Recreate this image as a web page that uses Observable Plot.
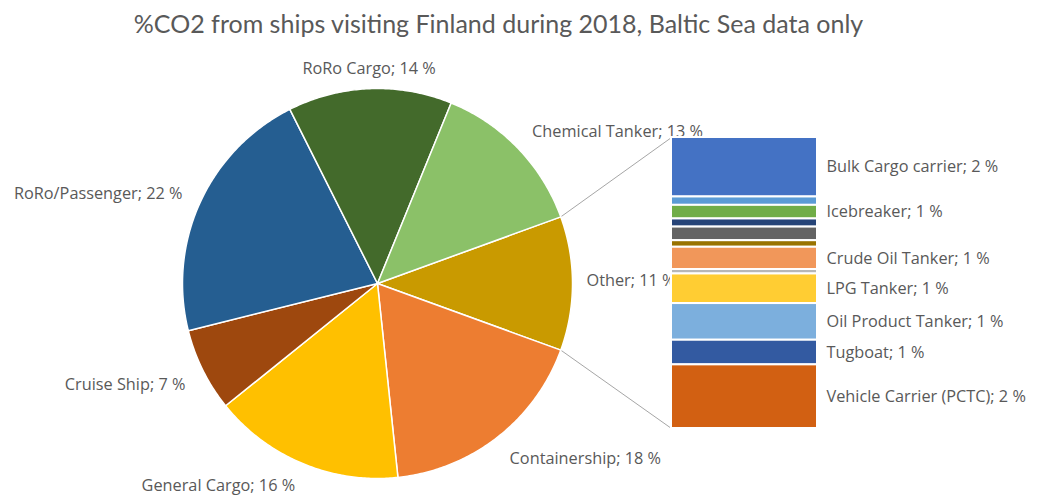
<!DOCTYPE html>
<html><head><meta charset="utf-8">
<script src="https://cdn.jsdelivr.net/npm/d3@7"></script>
<script src="https://cdn.jsdelivr.net/npm/@observablehq/plot@0.6"></script>
<style>
body{margin:0;background:#fff;font-family:"Open Sans",sans-serif;}
#title{height:44px;width:1037px;box-sizing:border-box;padding-right:40px;text-align:center;font-family:Lato,sans-serif;font-size:25px;line-height:46px;color:#595959;white-space:nowrap;}
</style></head><body>
<div id="title">%CO2 from ships visiting Finland during 2018, Baltic Sea data only</div>
<div id="chart"></div>
<script>
// ---- data ----
const pieCategories = ["Other", "Containership", "General Cargo", "Cruise Ship", "RoRo/Passenger", "RoRo Cargo", "Chemical Tanker"];
const pieMainValues = [17.8, 15.9, 6.9, 21.5, 13.6, 13.3]; // after "Other"
const pieColors = ["#c99a00", "#ed7d31", "#ffc000", "#9e480e", "#255e91", "#436a2b", "#8bc168"];

const barCategories = ["Bulk Cargo carrier", "(unlabelled 1)", "Icebreaker", "(unlabelled 2)", "(unlabelled 3)", "(unlabelled 4)", "Crude Oil Tanker", "(unlabelled 5)", "LPG Tanker", "Oil Product Tanker", "Tugboat", "Vehicle Carrier (PCTC)"];
const barValues = [2.27, 0.32, 0.52, 0.31, 0.52, 0.25, 0.85, 0.17, 1.13, 1.40, 0.94, 2.43];
const barColors = ["#4472c4", "#5b9bd5", "#70ad47", "#264478", "#636363", "#997300", "#f1975a", "#b7b7b7", "#ffcd33", "#7cafdd", "#335aa1", "#d26012"];
const barShowLabel = [true, false, true, false, false, false, true, false, true, true, true, true];

// ---- layout ----
const W = 1037, H = 451;
const cx = 377, cy = 239, R = 195;           // pie centre / radius in px
const px = v => (v - cx) / R;                 // px -> data x
const py = v => (cy - v) / R;                 // px -> data y
const barX1 = px(671), barX2 = px(817), barTop = py(93), barBottom = py(384), barLabelX = px(826);

const otherValue = d3.sum(barValues);
const pieValues = [otherValue, ...pieMainValues];
const total = d3.sum(pieValues);
const offset = Math.PI / 2 - (otherValue / total) * Math.PI;
const arcs = d3.pie().sort(null).startAngle(offset).endAngle(offset + 2 * Math.PI)(pieValues);

const piePts = arcs.flatMap((a, i) => {
  const n = Math.max(2, Math.ceil((a.endAngle - a.startAngle) / 0.01));
  const pts = [{k: i, x: 0, y: 0}];
  for (let j = 0; j <= n; j++) {
    const t = a.startAngle + (a.endAngle - a.startAngle) * j / n;
    pts.push({k: i, x: Math.sin(t), y: Math.cos(t)});
  }
  return pts;
});

const pieLabels = arcs.map((a, i) => {
  const m = (a.startAngle + a.endAngle) / 2;
  const s = Math.sin(m), c = Math.cos(m);
  return {
    x: 1.1 * s, y: 1.1 * c - (c < 0 ? 0.03 : 0) + (s > 0.5 && c > 0 ? 0.015 : 0),
    anchor: Math.abs(s) < 0.2 ? "middle" : (s > 0 ? "start" : "end"),
    text: `${pieCategories[i]}; ${Math.round(pieValues[i])} %`
  };
});
pieLabels[0].x = px(586);
pieLabels[2].y = py(441);

const k = (barTop - barBottom) / otherValue;
let cum = 0;
const barSegs = barValues.map((v, i) => {
  const y1 = barTop - cum * k; cum += v; const y2 = barTop - cum * k;
  return {y1, y2, fill: barColors[i], show: barShowLabel[i],
          text: `${barCategories[i]}; ${Math.round(v)} %`};
});

const a0 = arcs[0].startAngle, a1 = arcs[0].endAngle;
const links = [
  {x1: Math.sin(a0), y1: Math.cos(a0), x2: barX1, y2: barTop},
  {x1: Math.sin(a1), y1: Math.cos(a1), x2: barX1, y2: barBottom}
];

const textOpts = {fill: "#595959", fontSize: 16.3, fontFamily: "Open Sans"};

const chart = Plot.plot({
  width: W, height: H,
  margin: 0,
  x: {domain: [px(0), px(W)], axis: null},
  y: {domain: [py(H), py(0)], axis: null},
  color: {type: "identity"},
  style: {background: "white", fontFamily: "Open Sans"},
  marks: [
    Plot.link(links, {x1: "x1", y1: "y1", x2: "x2", y2: "y2", stroke: "#a6a6a6", strokeWidth: 1}),
    ...["start", "middle", "end"].map(an =>
      Plot.text(pieLabels.filter(d => d.anchor === an), {x: "x", y: "y", text: "text", textAnchor: an, ...textOpts})),
    Plot.line(piePts, {x: "x", y: "y", z: "k", fill: d => pieColors[d.k], stroke: "white", strokeWidth: 1.5, curve: "linear-closed"}),
    Plot.rect(barSegs, {x1: barX1, x2: barX2, y1: "y1", y2: "y2", fill: "fill", stroke: "white", strokeWidth: 2}),
    Plot.text(barSegs.filter(d => d.show), {x: barLabelX, y: d => (d.y1 + d.y2) / 2, text: "text", textAnchor: "start", ...textOpts})
  ]
});
document.getElementById("chart").appendChild(chart);
</script>
</body></html>
